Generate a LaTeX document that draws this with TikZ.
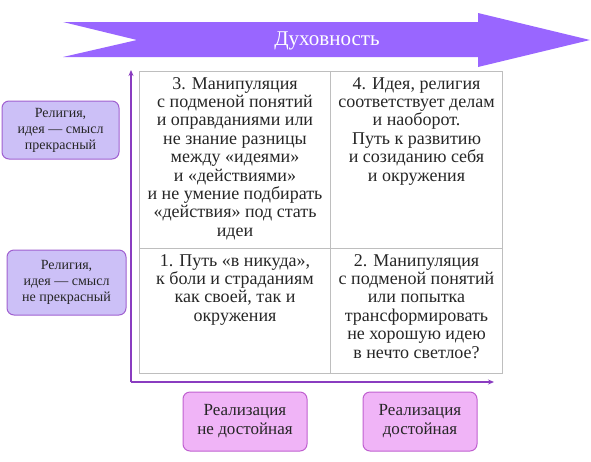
\documentclass[tikz,border=0pt]{standalone}
\usepackage{fontspec}
\setmainfont{Liberation Serif}
\usetikzlibrary{arrows.meta}
\definecolor{arrowfill}{HTML}{9966FF}
\definecolor{lavfill}{HTML}{CCC0F7}
\definecolor{lavdraw}{HTML}{A060D0}
\definecolor{pinkfill}{HTML}{F0B4F7}
\definecolor{pinkdraw}{HTML}{C060D0}
\definecolor{axiscol}{HTML}{8A3CC0}
\definecolor{gridcol}{HTML}{BEBEBE}
\tikzset{
  cellbox/.style={draw=gridcol, line width=1pt, inner sep=0pt, anchor=north west},
  celltext/.style={anchor=north, align=center, inner sep=0pt, font=\fontsize{18}{18.4}\selectfont, text=black!85},
  sidebox/.style={draw=lavdraw, fill=lavfill, line width=1pt, rounded corners=7pt, align=center, inner sep=0pt, font=\fontsize{14}{16}\selectfont, text=black!85},
  botbox/.style={draw=pinkdraw, fill=pinkfill, line width=1pt, rounded corners=7pt, align=center, inner sep=0pt, font=\fontsize{17}{19}\selectfont, text=black!85},
  axisline/.style={draw=axiscol, line width=1.6pt, -{Stealth[length=6pt,width=5pt]}}
}
\begin{document}
\begin{tikzpicture}[x=1pt,y=-1pt]
\useasboundingbox (0,0) rectangle (591,461);
% big arrow
\fill[arrowfill] (63,22) -- (478,22) -- (478,13) -- (590,40) -- (478,67) -- (478,57) -- (63,57) -- (137,40) -- cycle;
\node[text=white, font=\fontsize{21}{24}\selectfont] (title) at (327,41) {Духовность};
% grid cells
\node[cellbox, minimum width=191pt, minimum height=177pt] (c3) at (139,71) {};
\node[cellbox, minimum width=172pt, minimum height=177pt] (c4) at (330,71) {};
\node[cellbox, minimum width=191pt, minimum height=125pt] (c1) at (139,248) {};
\node[cellbox, minimum width=172pt, minimum height=125pt] (c2) at (330,248) {};
\node[celltext] (t3) at ([yshift=-6pt]c3.north) {3. Манипуляция\\с подменой понятий\\и оправданиями или\\не знание разницы\\между «идеями»\\и «действиями»\\и не умение подбирать\\«действия» под стать\\идеи};
\node[celltext] (t4) at ([yshift=-6pt]c4.north) {4. Идея, религия\\соответствует делам\\и наоборот.\\Путь к развитию\\и созиданию себя\\и окружения};
\node[celltext] (t1) at ([yshift=-6pt]c1.north) {1. Путь «в никуда»,\\к боли и страданиям\\как своей, так и\\окружения};
\node[celltext] (t2) at ([yshift=-6pt]c2.north) {2. Манипуляция\\с подменой понятий\\или попытка\\трансформировать\\не хорошую идею\\в нечто светлое?};
% axes
\coordinate (o) at (131,382);
\coordinate (ytop) at (131,70);
\coordinate (xend) at (494,382);
\draw[axisline] (o) -- (ytop);
\draw[axisline] (o) -- (xend);
% side boxes
\node[sidebox, minimum width=117pt, minimum height=58pt] (s1) at (60.5,130) {Религия,\\идея --- смысл\\прекрасный};
\node[sidebox, minimum width=119pt, minimum height=65pt] (s2) at (66.5,282.5) {Религия,\\идея --- смысл\\не прекрасный};
% bottom boxes
\node[botbox, minimum width=124pt, minimum height=59pt] (b1) at (245,421.5) {Реализация\\не достойная};
\node[botbox, minimum width=114pt, minimum height=59pt] (b2) at (420,421.5) {Реализация\\достойная};
\end{tikzpicture}
\end{document}
